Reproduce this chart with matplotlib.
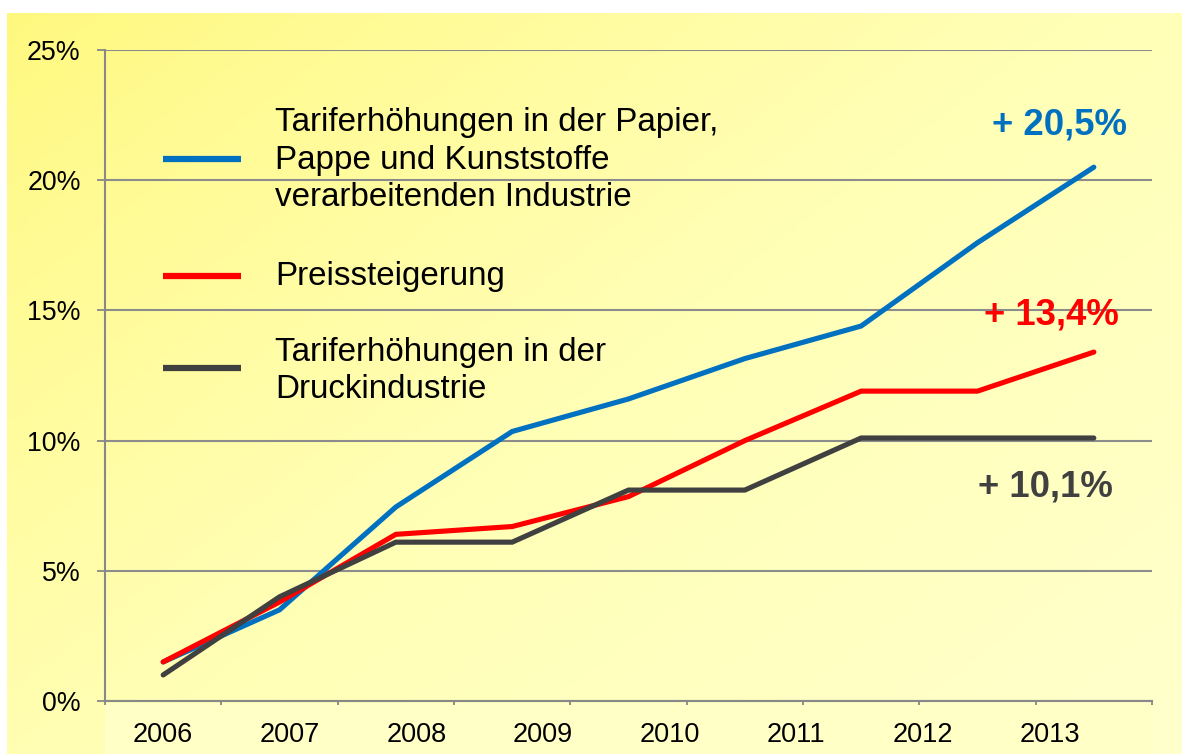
import numpy as np
import matplotlib
matplotlib.use("Agg")
import matplotlib.pyplot as plt
from matplotlib.patches import Rectangle
import matplotlib.transforms as mtransforms

plt.rcParams['font.family'] = ['Liberation Sans', 'DejaVu Sans']

# ---- data ----
year_labels = ['2006', '2007', '2008', '2009', '2010', '2011', '2012', '2013']
papier = [1.5, 3.5, 7.45, 10.35, 11.6, 13.15, 14.4, 17.6, 20.5]
preis = [1.5, 3.8, 6.4, 6.7, 7.85, 10.0, 11.9, 11.9, 13.4]
druck = [1.0, 4.0, 6.1, 6.1, 8.1, 8.1, 10.1, 10.1, 10.1]
series_names = ['Tariferhöhungen in der Papier,\nPappe und Kunststoffe\nverarbeitenden Industrie',
                'Preissteigerung',
                'Tariferhöhungen in der\nDruckindustrie']
end_labels = ['+ 20,5%', '+ 13,4%', '+ 10,1%']
y_ticks = [0, 5, 10, 15, 20, 25]
y_ticklabels = ['0%', '5%', '10%', '15%', '20%', '25%']

colors = ['#0070C0', '#FF0000', '#404040']

W, H = 1182, 754
fig = plt.figure(figsize=(W / 100, H / 100), dpi=100)
fig.patch.set_facecolor('white')

# ---- background gradient ----
bg = fig.add_axes([7 / W, 0, 1 - 7 / W, 1 - 13 / H], zorder=-10)
nx, ny = 300, 200
u = np.linspace(0, 1, nx)[None, :]
v = np.linspace(0, 1, ny)[:, None]
t = np.clip(0.55 * u + 0.45 * v, 0, 1)
c0 = np.array([255, 248, 125]) / 255
c1 = np.array([255, 255, 182]) / 255
c2 = np.array([255, 255, 205]) / 255
s = np.clip(t / 0.5, 0, 1)[..., None]
s2 = np.clip((t - 0.5) / 0.5, 0, 1)[..., None]
img = np.where(t[..., None] < 0.5, c0 + (c1 - c0) * s ** 0.8, c1 + (c2 - c1) * s2)
bg.imshow(img, aspect='auto', extent=[0, 1, 0, 1], origin='upper')
bg.set_axis_off()

# lighter box under the category axis
fig.patches.append(Rectangle((105 / W, 0), (1152 - 105) / W, 51 / H,
                             transform=fig.transFigure, facecolor='#FFFFC6',
                             edgecolor='none', zorder=-5))

# ---- main axes ----
ax = fig.add_axes([105 / W, 53 / H, (1152 - 105) / W, (701 - 50) / H])
ax.set_facecolor('none')
x = np.arange(len(papier))
for vals, col in zip([papier, preis, druck], colors):
    ax.plot(x, vals, color=col, lw=3.7, solid_capstyle='round',
            solid_joinstyle='miter', zorder=3)

ax.set_xlim(-0.5, len(papier) - 0.5)
ax.set_ylim(0, 25)
ax.set_yticks(y_ticks)
ax.set_yticklabels(y_ticklabels, fontsize=19.3)
ax.set_xticks(np.arange(-0.5, len(papier), 1.0))
ax.set_xticklabels([])
ax.tick_params(axis='y', length=5.5, width=1.3, color='#888888', pad=12)
ax.tick_params(axis='x', length=3, width=1.3, color='#888888')
ax.grid(axis='y', color='#8C8C8C', lw=1.5, zorder=1)
for sp in ['top', 'right']:
    ax.spines[sp].set_visible(False)
for sp in ['left', 'bottom']:
    ax.spines[sp].set_color('#888888')
    ax.spines[sp].set_linewidth(1.5)

# year labels (manually placed, as in the original)
trans = mtransforms.blended_transform_factory(ax.transData, ax.transAxes)
label_pos = np.linspace(0.0, 7.62, len(year_labels))
for xp, lab in zip(label_pos, year_labels):
    ax.text(xp, -34 / 651, lab, transform=trans, ha='center', va='center',
            fontsize=19.5, color='black')

# ---- custom legend ----
leg_y = [(701 - 159) / 651, (701 - 276) / 651, (701 - 368) / 651]
txt_y = [(701 - 160) / 651, (701 - 276) / 651, (701 - 371) / 651]
for ly, ty, col, name in zip(leg_y, txt_y, colors, series_names):
    ax.plot([(163 - 105) / 1047, (241 - 105) / 1047], [ly, ly], color=col,
            lw=4.5, solid_capstyle='butt', transform=ax.transAxes, zorder=4)
    ax.text((275 - 105) / 1047, ty, name, transform=ax.transAxes, ha='left',
            va='center', fontsize=23.9, linespacing=1.25, color='black')

# ---- end labels ----
end_pos = [(1059.5, 125), (1051.5, 315), (1045.5, 487)]
for (px, py), lab, col in zip(end_pos, end_labels, colors):
    ax.text((px - 105) / 1047, (701 - py) / 651, lab, transform=ax.transAxes,
            ha='center', va='center', fontsize=26.3, fontweight='bold', color=col)

fig.savefig('out.png', dpi=100)
